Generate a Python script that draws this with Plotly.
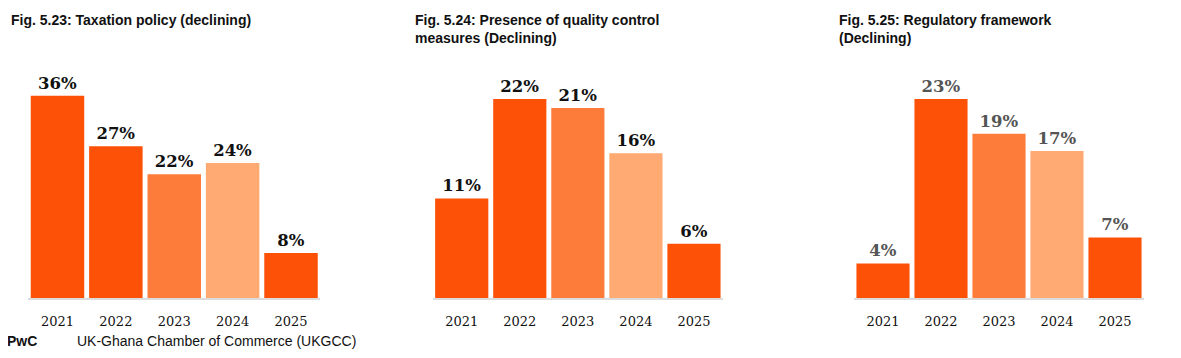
import plotly.graph_objects as go

# The page body has an 8px margin, so the figure is drawn at offset (8, 8).
OFF = 8
W, H = 1181 - OFF, 358 - OFF

categories = ["2021", "2022", "2023", "2024", "2025"]
taxation = [36, 27, 22, 24, 8]
quality = [11, 22, 21, 16, 6]
regulatory = [4, 23, 19, 17, 7]
bar_colors = ["#FD5108", "#FD5108", "#FE7C39", "#FFAA72", "#FD5108"]

titles = [
    "Fig. 5.23: Taxation policy (declining)",
    "Fig. 5.24: Presence of quality control<br>measures (Declining)",
    "Fig. 5.25: Regulatory framework<br>(Declining)",
]
label_colors = ["#111111", "#111111", "#555555"]

# pixel layout (screen coords)
x_px = [(28.3, 320.2), (432.7, 723.0), (854.0, 1144.0)]
title_x_px = [9, 413, 837]
y_bottom_px, y_top_px = 298, 60
px_per_pct = [5.62, 9.05, 8.65]


def fx(px):
    return (px - OFF) / W


def fy(py):
    return 1 - (py - OFF) / H


series = [taxation, quality, regulatory]

fig = go.Figure()
for i, vals in enumerate(series):
    sfx = "" if i == 0 else str(i + 1)
    fig.add_trace(go.Bar(
        x=categories, y=vals,
        marker=dict(color=bar_colors, line=dict(width=0)),
        text=[f"{v}%" for v in vals],
        textposition="outside",
        textfont=dict(family="DejaVu Serif", size=16.5, color=label_colors[i], weight="bold"),
        cliponaxis=False,
        xaxis="x" + sfx, yaxis="y" + sfx,
        showlegend=False,
        hoverinfo="skip",
    ))
    x0, x1 = x_px[i]
    ymax = (y_bottom_px - y_top_px) / px_per_pct[i]
    fig.layout["xaxis" + sfx] = dict(
        domain=[fx(x0), fx(x1)], anchor="y" + sfx,
        showline=True, linecolor="#dcdcdc", linewidth=1.5,
        showgrid=False, zeroline=False, ticks="",
        ticklabelstandoff=11,
        tickfont=dict(family="DejaVu Serif", size=13, color="#111111"),
        fixedrange=True,
    )
    fig.layout["yaxis" + sfx] = dict(
        domain=[fy(y_bottom_px), fy(y_top_px)], anchor="x" + sfx,
        range=[0, ymax], visible=False, fixedrange=True,
    )
    fig.add_annotation(
        text="<b>" + titles[i].replace("<br>", "</b><br><b>") + "</b>",
        xref="paper", yref="paper", x=fx(title_x_px[i]), y=fy(10),
        xanchor="left", yanchor="top", align="left", showarrow=False,
        font=dict(family="Liberation Sans", size=14, color="#111111"),
    )

fig.add_annotation(text="<b>PwC</b>", xref="paper", yref="paper",
                   x=fx(5), y=fy(341), xanchor="left", yanchor="middle",
                   showarrow=False,
                   font=dict(family="Liberation Sans", size=14, color="#111111"))
fig.add_annotation(text="UK-Ghana Chamber of Commerce (UKGCC)", xref="paper", yref="paper",
                   x=fx(75), y=fy(341), xanchor="left", yanchor="middle",
                   showarrow=False,
                   font=dict(family="Liberation Sans", size=14, color="#111111"))

fig.update_layout(
    width=W, height=H,
    margin=dict(l=0, r=0, t=0, b=0),
    paper_bgcolor="white", plot_bgcolor="white",
    bargap=0.084,
)

fig.write_html("out.html")
